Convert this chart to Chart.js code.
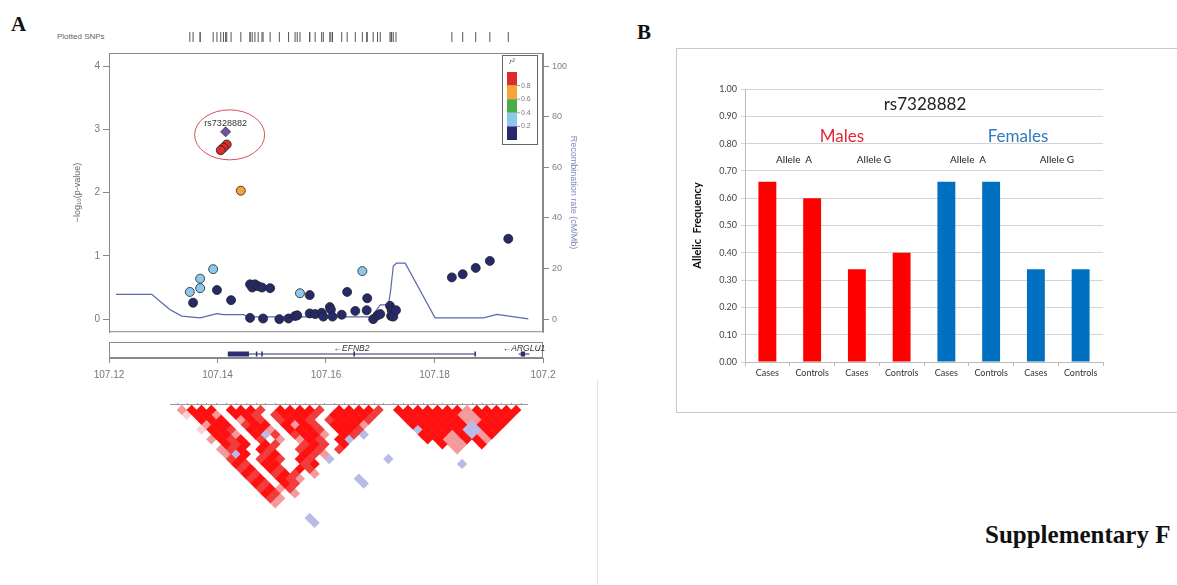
<!DOCTYPE html>
<html>
<head>
<meta charset="utf-8">
<title>rs7328882 regional association and allele frequencies</title>
<script src="https://cdn.jsdelivr.net/npm/chart.js@4.4.1/dist/chart.umd.min.js"></script>
<style>
  html, body { margin: 0; padding: 0; }
  body { width: 1177px; height: 585px; position: relative; overflow: hidden; background: #fff;
         font-family: "Liberation Sans", Arial, sans-serif; }
  canvas { position: absolute; }
  .lbl { position: absolute; white-space: pre; }
  .mid { transform: translate(-50%, -50%); }
  .panel { font-family: "Liberation Serif", "Times New Roman", serif; font-weight: bold; font-size: 21px; line-height: 21px; color: #111; }
  .b { font-family: Lato, "Open Sans", sans-serif; color: #222; }
</style>
</head>
<body>
<div class="lbl panel" style="left:11px;top:14px">A</div>
<div class="lbl panel" style="left:637px;top:22px">B</div>
<div class="lbl" style="left:57px;top:32px;font-size:8px;color:#666">Plotted SNPs</div>

<canvas id="snpTrack" width="600" height="26" style="left:0;top:24px"></canvas>
<canvas id="assocChart" width="600" height="293" style="left:0;top:45px"></canvas>
<canvas id="geneChart" width="600" height="50" style="left:0;top:336px"></canvas>
<canvas id="ldChart" width="400" height="185" style="left:150px;top:395px"></canvas>
<div style="position:absolute;left:597px;top:380px;width:0;height:205px;border-left:1px solid #e2e2e2"></div>

<div style="position:absolute;left:676px;top:48px;width:520px;height:363px;border:1px solid #c9c9c9"></div>
<canvas id="freqChart" width="500" height="364" style="left:677px;top:49px"></canvas>
<div class="lbl b mid" style="left:925px;top:103px;font-size:17px">rs7328882</div>
<div class="lbl b mid" style="left:842px;top:135px;font-size:17px;color:#e5263a">Males</div>
<div class="lbl b mid" style="left:1018px;top:135px;font-size:17px;color:#2f7bbf">Females</div>
<div class="lbl b mid" style="left:794px;top:159px;font-size:10px">Allele  A</div>
<div class="lbl b mid" style="left:874px;top:159px;font-size:10px">Allele G</div>
<div class="lbl b mid" style="left:968px;top:159px;font-size:10px">Allele  A</div>
<div class="lbl b mid" style="left:1057px;top:159px;font-size:10px">Allele G</div>

<div class="lbl panel" style="left:985px;top:522px;font-size:25px;line-height:25px">Supplementary F</div>

<script>
// --- regional association data (position in Mb, -log10 p, r2 with lead SNP)
const leadName = 'rs7328882';
const leadPos = 107.1415;
const leadLogP = 2.96;

const snpPos = [107.1355, 107.1399, 107.1425, 107.1460, 107.1464, 107.1469, 107.1475, 107.1482,
  107.1497, 107.1460, 107.1484, 107.1514, 107.1531, 107.1543, 107.1547, 107.1570, 107.1570,
  107.1580, 107.1592, 107.1595, 107.1607, 107.1609, 107.1612, 107.1629, 107.1639, 107.1654,
  107.1676, 107.1675, 107.1687, 107.1695, 107.1700, 107.1718, 107.1721, 107.1720, 107.1724,
  107.1729, 107.1832, 107.1852, 107.1876, 107.1902, 107.1936,
  107.1349, 107.1368, 107.1368, 107.1392, 107.1552, 107.1667,
  107.1443, 107.1417, 107.1411, 107.1406];
const snpLogP = [0.26, 0.46, 0.30, 0.55, 0.50, 0.55, 0.52, 0.50,
  0.49, 0.02, 0.01, 0.00, 0.01, 0.05, 0.06, 0.38, 0.09,
  0.08, 0.10, 0.04, 0.19, 0.15, 0.04, 0.07, 0.43, 0.13,
  0.33, 0.14, 0.00, 0.06, 0.08, 0.21, 0.14, 0.05, 0.04,
  0.14, 0.66, 0.71, 0.81, 0.92, 1.27,
  0.43, 0.64, 0.49, 0.79, 0.41, 0.76,
  2.03, 2.76, 2.71, 2.67];
const snpR2 = [0.1, 0.1, 0.1, 0.1, 0.1, 0.1, 0.1, 0.1,
  0.1, 0.1, 0.1, 0.1, 0.1, 0.1, 0.1, 0.1, 0.1,
  0.1, 0.1, 0.1, 0.1, 0.1, 0.1, 0.1, 0.1, 0.1,
  0.1, 0.1, 0.1, 0.1, 0.1, 0.1, 0.1, 0.1, 0.1,
  0.1, 0.1, 0.1, 0.1, 0.1, 0.1,
  0.3, 0.3, 0.3, 0.3, 0.3, 0.3,
  0.7, 0.9, 0.9, 0.9];

const recombPos = [107.1213, 107.1279, 107.1294, 107.1312, 107.1334, 107.1368, 107.1399, 107.1411,
  107.1448, 107.1457, 107.1684, 107.1700, 107.1715, 107.1719, 107.1724, 107.1730, 107.1746,
  107.1801, 107.1890, 107.1915, 107.1973];
const recombRate = [9.8, 9.8, 7.1, 3.8, 1.2, 0.5, 2.2, 1.8,
  1.8, 0.9, 0.9, 5.6, 5.6, 11.1, 21.0, 22.1, 22.1,
  0.5, 0.5, 1.9, 0.1];

const r2Breaks = [0.2, 0.4, 0.6, 0.8];
const r2Colors = ['#262a6b', '#8cc8ec', '#4aad4a', '#f5a43a', '#dc2b2b'];

// genes (Mb)
const geneName = ['EFNB2', 'ARGLU1'];
const geneStart = [107.1419, 107.1955];
const geneEnd = [107.1875, 107.1975];
const exonStart = [107.1419, 107.1959];
const exonEnd = [107.1458, 107.1967];
const smallExonPos = [107.1472, 107.1482, 107.1652, 107.1875];

// LD triangle, one string per SNP distance (1, 2, 3 ...), one char per pair:
// R strong, r high, p medium, l low, b negative/low-LOD, . none ('|' only separates blocks)
const ldSnpCount = 36;
const ldRows = [
  'pRRR.RRRr.RRRRr.RRRRr|.|RRRRRRRpRRRRR',
  'lRRp.RRr.rRRRr.RRRRr|..|RRRRRRppRRRR',
  '.RRR.pRr.rRRr.rRRRr|...|RRRRRRppRRR',
  '.pRR.rRR.RpRr.RRRp|....|RRRRRRbRRR',
  'lRRr.RRp.RRRr.RRr|.....|bRRRRbbRR',
  '.RRp.Rbr.rRRp.Rr|b.....|RRRpRbpR',
  'pRrR.r.p.pRr.Rb|.......|RRppRRp',
  '.RrR.Rr..rRr.R|........|.Rpp.R',
  'prR.Rr..rRr.r|.........|..p..',
  'pbR.rR..Rrp.|..........|....',
  'rR.rRr.Rr.b|.....b.....|...',
  'Rr.RR..rR.|............|.b',
  'rR.Rr.Rr.|.............|.',
  'Rr.rRr.p|..............',
  'rR.Rrp.|....b.........',
  'Rr.Rr.|.....b........',
  'rRpr.',
  'Rr.p',
  'rp.',
  'p.',
  '',
  '',
  '..b',
  '..b'
];
const ldColors = { R: '#ff1010', r: '#f23c3c', p: '#f59a9a', l: '#fbd0d0', b: '#b8bbe8' };

// --- allele frequency data
const freqCategories = ['Cases', 'Controls', 'Cases', 'Controls', 'Cases', 'Controls', 'Cases', 'Controls'];
const freqSex = ['Males', 'Males', 'Males', 'Males', 'Females', 'Females', 'Females', 'Females'];
const freqValues = [0.66, 0.60, 0.34, 0.40, 0.66, 0.66, 0.34, 0.34];
const sexColors = { Males: '#ff0000', Females: '#0070c0' };

Chart.defaults.font.family = '"Liberation Sans", Arial, sans-serif';
Chart.defaults.animation = false;
Chart.defaults.responsive = false;
Chart.defaults.plugins.legend.display = false;
Chart.defaults.plugins.tooltip.enabled = false;

const colorForR2 = r => r2Colors[r2Breaks.filter(b => r >= b).length];
const toXY = (xs, ys) => xs.map((v, i) => ({ x: v, y: ys[i] }));
// fixed axis width, and no extra room for the end labels
const fixWidth = w => s => { s.width = w; s.paddingTop = 0; s.paddingBottom = 0; };

// plotted SNPs track
new Chart(document.getElementById('snpTrack'), {
  type: 'scatter',
  data: {
    datasets: [{
      data: snpPos.concat([leadPos]).map(p => ({ x: p, y: 0 })),
      pointStyle: 'line', rotation: 90, pointRadius: 5,
      borderColor: '#555', borderWidth: 1
    }]
  },
  options: {
    layout: { padding: { left: 109, right: 57, top: 0, bottom: 0 } },
    scales: {
      x: { type: 'linear', min: 107.12, max: 107.2, display: false },
      y: { min: -1, max: 1, display: false }
    }
  }
});

// box, ellipse, lead label and r2 legend
const assocDecor = {
  id: 'assocDecor',
  afterDatasetsDraw(chart) {
    const { ctx, chartArea: a, scales: { x, y } } = chart;
    ctx.save();
    ctx.strokeStyle = '#8a8a8a';
    ctx.lineWidth = 1;
    ctx.strokeRect(a.left + 0.5, a.top + 0.5, a.width - 1, a.height - 1);

    const cx = x.getPixelForValue(leadPos);
    const cy = y.getPixelForValue(leadLogP);
    ctx.strokeStyle = '#d6505c';
    ctx.beginPath();
    ctx.ellipse(cx + 4, cy + 3, 35, 25, 0, 0, Math.PI * 2);
    ctx.stroke();
    ctx.fillStyle = '#333';
    ctx.font = '9px "Liberation Sans"';
    ctx.textAlign = 'center';
    ctx.textBaseline = 'alphabetic';
    ctx.fillText(leadName, cx, cy - 6);

    // r2 legend
    const lx = a.right - 41, ly = a.top + 2;
    ctx.strokeStyle = '#666';
    ctx.strokeRect(lx + 0.5, ly + 0.5, 35, 89);
    const bx = lx + 5, by = ly + 17, seg = 13.6;
    r2Colors.slice().reverse().forEach((c, i) => {
      ctx.fillStyle = c;
      ctx.fillRect(bx, by + i * seg, 10, seg);
    });
    ctx.strokeStyle = '#999';
    ctx.font = '7px "Liberation Sans"';
    ctx.textAlign = 'left';
    ctx.textBaseline = 'middle';
    r2Breaks.slice().reverse().forEach((b, i) => {
      const ty = by + (i + 1) * seg;
      ctx.beginPath();
      ctx.moveTo(bx + 10, ty); ctx.lineTo(bx + 13, ty);
      ctx.stroke();
      ctx.fillStyle = '#777';
      ctx.fillText(b.toFixed(1), bx + 14, ty);
    });
    ctx.fillStyle = '#555';
    ctx.font = 'italic 8px "Liberation Sans"';
    ctx.textAlign = 'center';
    ctx.fillText('r²', bx + 5, ly + 7);
    ctx.restore();
  }
};

new Chart(document.getElementById('assocChart'), {
  type: 'scatter',
  data: {
    datasets: [
      {
        data: [{ x: leadPos, y: leadLogP }],
        pointStyle: 'rectRot', pointRadius: 5,
        backgroundColor: '#6f52a0', borderColor: '#333', borderWidth: 0.8, order: 0
      },
      {
        data: toXY(snpPos, snpLogP),
        pointRadius: 4.5,
        backgroundColor: snpR2.map(colorForR2), borderColor: '#222', borderWidth: 0.8, order: 1
      },
      {
        data: toXY(recombPos, recombRate), yAxisID: 'y2',
        showLine: true, pointRadius: 0, borderColor: '#5b6aa9', borderWidth: 1.2, order: 2
      }
    ]
  },
  options: {
    layout: { padding: { left: 68, right: 17, top: 8, bottom: 4 } },
    scales: {
      x: { type: 'linear', min: 107.12, max: 107.2, display: false },
      y: {
        min: -0.2063, max: 4.2063,
        afterFit: fixWidth(41),
        ticks: { stepSize: 1, includeBounds: false, color: '#777', font: { size: 10 }, padding: 3 },
        grid: { drawOnChartArea: false, tickLength: 6, color: '#888' },
        border: { color: '#888' },
        title: { display: true, text: '−log₁₀(p-value)', color: '#666', font: { size: 9 } }
      },
      y2: {
        position: 'right',
        min: -5.159, max: 105.159,
        afterFit: fixWidth(40),
        ticks: { stepSize: 20, includeBounds: false, color: '#7b8096', font: { size: 9 }, padding: 3 },
        grid: { drawOnChartArea: false, tickLength: 6, color: '#888' },
        border: { color: '#888' },
        title: { display: true, text: 'Recombination rate (cM/Mb)', color: '#8088bb', font: { size: 9 } }
      }
    }
  },
  plugins: [assocDecor]
});

// gene track with genomic position axis
const geneDecor = {
  id: 'geneDecor',
  afterDatasetsDraw(chart) {
    const { ctx, chartArea: a, scales: { x, y } } = chart;
    ctx.save();
    ctx.strokeStyle = '#8a8a8a';
    ctx.strokeRect(a.left + 0.5, a.top + 0.5, a.width - 1, a.height - 1);
    ctx.fillStyle = '#333';
    ctx.font = 'italic 8.5px "Liberation Sans"';
    ctx.textAlign = 'center';
    ctx.textBaseline = 'middle';
    geneName.forEach((g, i) => {
      ctx.fillText('←' + g, x.getPixelForValue((geneStart[i] + geneEnd[i]) / 2), y.getPixelForValue(0.15));
    });
    ctx.restore();
  }
};

const geneSets = geneName.map((g, i) => ({
  data: [{ x: geneStart[i], y: -0.5 }, { x: geneEnd[i], y: -0.5 }],
  showLine: true, pointRadius: 0, borderColor: '#2b2f72', borderWidth: 1
}));
const exonSets = exonStart.map((s, i) => ({
  data: [{ x: s, y: -0.5 }, { x: exonEnd[i], y: -0.5 }],
  showLine: true, pointRadius: 0, borderColor: '#2b2f72', borderWidth: 5
}));

new Chart(document.getElementById('geneChart'), {
  type: 'scatter',
  data: {
    datasets: geneSets.concat(exonSets, [{
      data: smallExonPos.map(p => ({ x: p, y: -0.5 })),
      pointStyle: 'line', rotation: 90, pointRadius: 2.5,
      borderColor: '#2b2f72', borderWidth: 1.5
    }])
  },
  options: {
    layout: { padding: { left: 109, right: 57, top: 6, bottom: 0 } },
    scales: {
      x: {
        type: 'linear', min: 107.12, max: 107.2,
        afterFit: s => { s.height = 28; },
        ticks: { stepSize: 0.02, color: '#777', font: { size: 10 }, padding: 6,
                 callback: v => String(+v.toFixed(2)) },
        grid: { drawOnChartArea: false, tickLength: 5, color: '#888' },
        border: { color: '#888' }
      },
      y: { min: -1, max: 1, display: false }
    }
  },
  plugins: [geneDecor]
});

// LD triangle
const ldCells = {};
Object.keys(ldColors).forEach(k => { ldCells[k] = []; });
ldRows.forEach((row, k) => {
  const d = k + 1;
  row.replace(/\|/g, '').split('').forEach((c, i) => {
    if (ldCells[c]) ldCells[c].push({ x: i + d / 2 + 0.5, y: d / 2 });
  });
});

const ldTopLine = {
  id: 'ldTopLine',
  beforeDatasetsDraw(chart) {
    const { ctx, chartArea: a, scales: { x } } = chart;
    ctx.save();
    ctx.strokeStyle = '#9a9a9a';
    ctx.lineWidth = 1;
    ctx.beginPath();
    ctx.moveTo(a.left - 2, a.top - 0.5);
    ctx.lineTo(a.right + 2, a.top - 0.5);
    for (let k = 0; k < ldSnpCount; k++) {
      const px = Math.round(x.getPixelForValue(k + 0.5)) + 0.5;
      ctx.moveTo(px, a.top - 2);
      ctx.lineTo(px, a.top);
    }
    ctx.stroke();
    ctx.restore();
  }
};

new Chart(document.getElementById('ldChart'), {
  type: 'scatter',
  data: {
    datasets: Object.keys(ldColors).map(k => ({
      data: ldCells[k],
      pointStyle: 'rectRot', pointRadius: 5.2, borderWidth: 0,
      backgroundColor: ldColors[k]
    }))
  },
  options: {
    layout: { padding: { left: 22, right: 24, top: 10, bottom: 5 } },
    scales: {
      x: { type: 'linear', min: 0, max: ldSnpCount, display: false },
      y: { min: 0, max: 17.29, reverse: true, display: false }
    }
  },
  plugins: [ldTopLine]
});

// allele frequency bars
new Chart(document.getElementById('freqChart'), {
  type: 'bar',
  data: {
    labels: freqCategories,
    datasets: [{
      data: freqValues,
      backgroundColor: freqSex.map(s => sexColors[s]),
      barPercentage: 0.4,
      categoryPercentage: 1
    }]
  },
  options: {
    layout: { padding: { left: 10, right: 74, top: 40, bottom: 0 } },
    scales: {
      x: {
        afterFit: s => { s.height = 51; },
        ticks: { color: '#333', font: { family: 'Lato', size: 9 }, padding: 2, maxRotation: 0 },
        grid: { offset: true, drawOnChartArea: false, tickLength: 4, color: '#bbb' },
        border: { color: '#bbb' }
      },
      y: {
        min: 0, max: 1,
        afterFit: s => { s.width = 58; },
        ticks: { stepSize: 0.1, color: '#444', font: { family: 'Lato', size: 9 }, padding: 4,
                 callback: v => v.toFixed(2) },
        grid: { color: '#d4d4d4', tickLength: 4 },
        border: { color: '#bbb' },
        title: { display: true, text: 'Allelic  Frequency', color: '#111',
                 font: { family: 'Lato', size: 11, weight: 'bold' } }
      }
    }
  }
});
</script>
</body>
</html>
